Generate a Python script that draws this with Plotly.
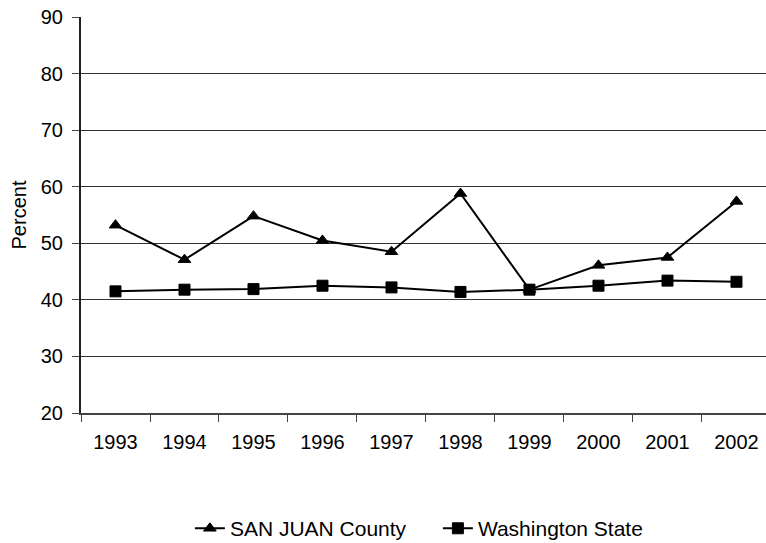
import plotly.graph_objects as go

years = ["1993", "1994", "1995", "1996", "1997", "1998", "1999", "2000", "2001", "2002"]
san_juan = [53.2, 47.1, 54.8, 50.5, 48.5, 58.8, 41.8, 46.1, 47.5, 57.4]
washington = [41.5, 41.8, 41.9, 42.5, 42.2, 41.4, 41.8, 42.5, 43.4, 43.2]

font = dict(family="Liberation Sans, Arial, sans-serif", size=20, color="black")

fig = go.Figure()
fig.add_trace(go.Scatter(
    x=years, y=san_juan, name="SAN JUAN County", mode="lines+markers",
    line=dict(color="black", width=2),
    marker=dict(symbol="triangle-up", size=11, color="black",
                line=dict(color="black", width=1)),
))
fig.add_trace(go.Scatter(
    x=years, y=washington, name="Washington State", mode="lines+markers",
    line=dict(color="black", width=2),
    marker=dict(symbol="square", size=11, color="black",
                line=dict(color="black", width=1)),
))

fig.update_layout(
    width=766, height=543,
    margin=dict(l=81, r=0, t=17, b=130, autoexpand=False),
    paper_bgcolor="white", plot_bgcolor="white",
    font=font,
    showlegend=True,
    legend=dict(orientation="h", x=0.521, xanchor="center", y=-0.292, yanchor="middle",
                font=dict(family=font["family"], size=21, color="black"),
                traceorder="normal", entrywidth=203, entrywidthmode="pixels"),
)
fig.update_xaxes(
    type="category", range=[-0.5, 9.428],
    showline=True, linecolor="#444444", linewidth=2,
    ticks="outside", tickson="boundaries", ticklen=7, tickcolor="#444444",
    showgrid=False, tickfont=font, ticklabelstandoff=10,
)
fig.update_yaxes(
    range=[20, 90], dtick=10,
    showline=True, linecolor="#222222", linewidth=2,
    ticks="outside", ticklen=7, tickcolor="#444444",
    showgrid=True, gridcolor="#333333", gridwidth=1,
    zeroline=False, tickfont=font, ticklabelstandoff=5,
    ticklabeloverflow="allow",
    title=dict(text="Percent", font=font, standoff=9),
)

fig.write_html("out.html", config={"displayModeBar": False},
               post_script="document.body.style.margin='0';")
